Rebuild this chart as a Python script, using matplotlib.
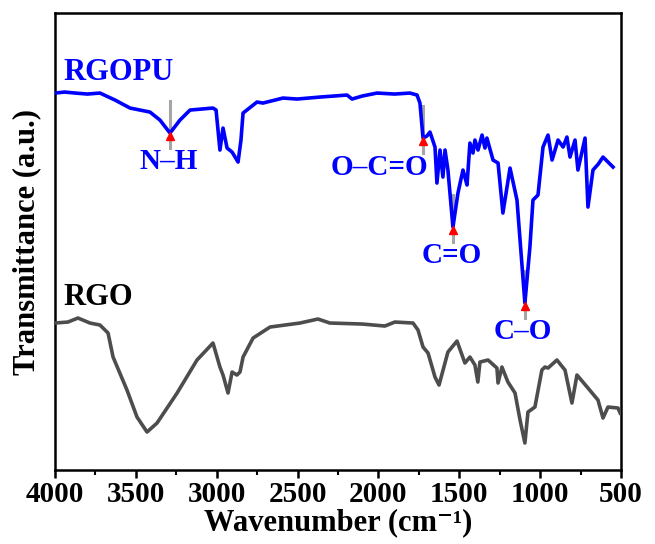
import matplotlib
matplotlib.use("Agg")
import matplotlib.pyplot as plt
from matplotlib.ticker import MultipleLocator

plt.rcParams["font.family"] = ["Liberation Serif", "DejaVu Serif"]
plt.rcParams["font.weight"] = "bold"

# RGOPU spectrum (wavenumber, transmittance a.u.)
rgopu_wn = [4000, 3940, 3876, 3800, 3722, 3629, 3536, 3413, 3351, 3289, 3227, 3165,
            3023, 3004, 2980, 2961, 2936, 2905, 2868, 2850, 2837, 2751, 2714, 2590,
            2503, 2361, 2194, 2163, 2100, 2009, 1900, 1805, 1761, 1743, 1724, 1700,
            1681, 1650, 1638, 1619, 1601, 1588, 1570, 1539, 1508, 1477, 1465, 1452,
            1434, 1415, 1403, 1384, 1359, 1341, 1329, 1291, 1260, 1230, 1186, 1143,
            1094, 1063, 1044, 1013, 982, 951, 926, 889, 858, 834, 815, 784, 766, 722,
            704, 673, 640, 611, 580, 549]
rgopu_t = [377, 378, 377, 376, 377, 370, 362, 358, 350, 337, 350, 360,
           362, 360, 320, 342, 322, 318, 308, 330, 357, 368, 367, 372,
           371, 373, 375, 371, 374, 377, 376, 377, 375, 367, 332, 334,
           338, 323, 287, 320, 293, 320, 300, 243, 277, 300, 293, 285,
           327, 317, 330, 320, 335, 322, 332, 310, 307, 257, 302, 270,
           167, 223, 270, 275, 323, 335, 310, 330, 323, 333, 313, 330, 300, 332,
           263, 300, 306, 313, 308, 303]

# RGO spectrum
rgo_wn = [4000, 3920, 3858, 3784, 3722, 3672, 3641, 3555, 3493, 3431, 3369, 3245,
          3122, 3023, 2980, 2961, 2930, 2905, 2875, 2856, 2837, 2775, 2670, 2485,
          2374, 2300, 2100, 1960, 1898, 1786, 1755, 1724, 1693, 1650, 1625, 1570,
          1514, 1465, 1434, 1403, 1385, 1372, 1322, 1267, 1260, 1236, 1199, 1155,
          1124, 1094, 1075, 1032, 989, 970, 951, 896, 846, 803, 772, 704, 642, 611,
          580, 518, 505]
rgo_t = [147, 148, 152, 147, 145, 137, 113, 80, 53, 38, 47, 77,
         110, 127, 103, 95, 77, 98, 95, 98, 113, 132, 143, 147,
         151, 147, 146, 144, 148, 147, 140, 123, 117, 93, 85, 118,
         129, 107, 113, 105, 88, 108, 110, 102, 87, 103, 88, 77,
         50, 27, 58, 63, 100, 103, 102, 110, 100, 67, 95, 82, 70, 52,
         63, 62, 57]

# peak annotations
peak_wn = [3289, 1724, 1539, 1094]
peak_t = [337, 332, 243, 167]
peak_labels = ["N\u2013H", "O\u2013C=O", "C=O", "C\u2013O"]

fig = plt.figure(figsize=(6.55, 5.44), dpi=100)
ax = fig.add_axes([0.084, 0.136, 0.864, 0.840])

ax.plot(rgopu_wn, rgopu_t, color="#0000ff", lw=2.6, zorder=3)
ax.plot(rgo_wn, rgo_t, color="#4d4d4d", lw=2.6, zorder=3)

for w, t, lab in zip(peak_wn, peak_t, peak_labels):
    ax.plot([w, w], [t - 15, t + 32], color="#a6a6a6", lw=2.2, zorder=2)
    ax.plot(w, t - 3, marker="^", color="red", markersize=6, zorder=4, mec="red")
    if lab == "O\u2013C=O":
        ax.text(w - 35, t - 29, lab, color="#0000ff", fontsize=21, fontweight="bold",
                ha="right", va="center", zorder=5)
    else:
        ax.text(w + 10, t - 28, lab, color="#0000ff", fontsize=21, fontweight="bold",
                ha="center", va="center", zorder=5)

ax.text(3950, 398, "RGOPU", color="#0000ff", fontsize=22, fontweight="bold",
        ha="left", va="center")
ax.text(3950, 173, "RGO", color="black", fontsize=22, fontweight="bold",
        ha="left", va="center")

ax.set_xlim(4000, 500)
ax.set_ylim(0, 457)
ax.xaxis.set_major_locator(MultipleLocator(500))
ax.xaxis.set_minor_locator(MultipleLocator(250))
ax.set_yticks([])
ax.tick_params(axis="x", which="major", direction="out", length=6, width=1.8,
               labelsize=21, pad=2)
ax.tick_params(axis="x", which="minor", direction="out", length=3.5, width=1.5)
for lab in ax.get_xticklabels():
    lab.set_fontweight("bold")
for sp in ax.spines.values():
    sp.set_linewidth(1.8)

ax.set_xlabel("Wavenumber (cm\u207b\u00b9)", fontsize=22, fontweight="bold", labelpad=0)
ax.set_ylabel("Transmittance (a.u.)", fontsize=22, fontweight="bold", labelpad=10)

fig.savefig("out.png", dpi=100)
